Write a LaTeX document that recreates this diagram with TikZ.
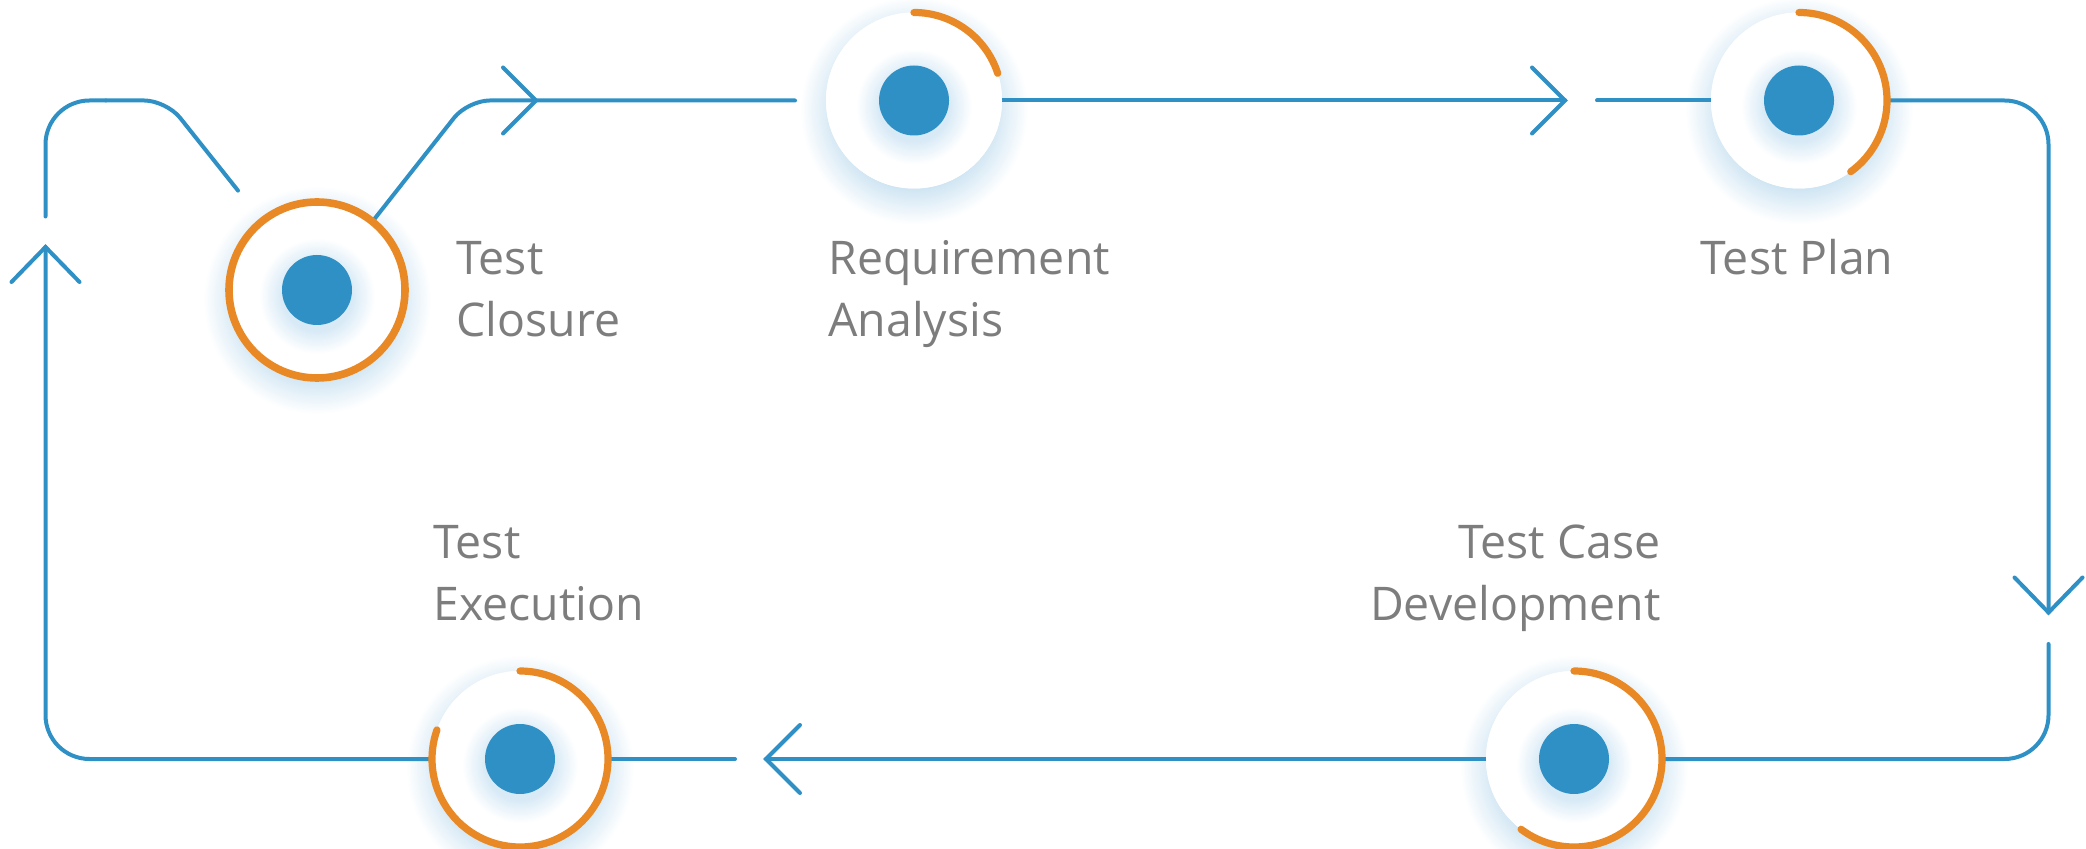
\documentclass[tikz,border=0pt]{standalone}
\usepackage{fontspec}
\setmainfont{Open Sans}
\definecolor{flowblue}{RGB}{46,144,196}
\definecolor{ringorange}{RGB}{233,137,37}
\definecolor{labelgray}{RGB}{125,125,125}
\definecolor{glowc}{RGB}{200,225,241}
\definecolor{glowd}{RGB}{216,234,246}
\pgfdeclareradialshading{glowshade}{\pgfpoint{0bp}{0bp}}{color(0bp)=(glowc); color(16bp)=(glowc); color(25bp)=(white); color(50bp)=(white)}
\pgfdeclareradialshading{dotshade}{\pgfpoint{0bp}{0bp}}{color(0bp)=(glowd); color(15bp)=(glowd); color(25bp)=(white); color(50bp)=(white)}
\tikzset{
  flow/.style={draw=flowblue, line width=2pt, line cap=round, line join=round},
  chev/.style={draw=flowblue, line width=2pt, line cap=round, line join=miter},
  stage/.style={circle, fill=white, minimum size=88pt, inner sep=0pt},
  ringarc/.style={draw=ringorange, line width=3.6pt, line cap=round},
  dotfill/.style={fill=flowblue},
  lbl/.style={text=labelgray, inner sep=0pt, font=\fontsize{23.2}{30.9}\selectfont},
}
\begin{document}
\begin{tikzpicture}[x=0.5pt,y=-0.5pt]
\useasboundingbox (0,0) rectangle (2086,849);
% centres
\coordinate (pC) at (317,290);
\coordinate (pR) at (914,100.5);
\coordinate (pP) at (1799,100.5);
\coordinate (pD) at (1574,759);
\coordinate (pE) at (520,759);
% glows
\foreach \p in {pC,pR,pP,pD,pE}{
  \shade[shading=glowshade] ([yshift=-5pt]\p) circle[radius=57pt];
}
% path coordinates
\coordinate (tl1) at (166.3,100.5);
\coordinate (lend) at (238,190.6);
\coordinate (mid5) at (105.9,100.5);
\coordinate (tr1) at (467.7,100.5);
\coordinate (a1) at (536,100.5);
\coordinate (g1) at (795,100.5);
\coordinate (a2) at (1565,100.5);
\coordinate (g2) at (1597,100.5);
\coordinate (cTR) at (2048.5,100.5);
\coordinate (a3) at (2048.5,612.5);
\coordinate (g3) at (2048.5,644);
\coordinate (cBR) at (2048.5,759);
\coordinate (a4) at (766,759);
\coordinate (g4) at (735,759);
\coordinate (cBL) at (45.5,759);
\coordinate (a5) at (45.5,247);
\coordinate (g5) at (45.5,216.5);
\coordinate (cTL) at (45.5,100.5);
% stage nodes
\node[stage] (C) at (pC) {};
\node[stage] (R) at (pR) {};
\node[stage] (P) at (pP) {};
\node[stage] (D) at (pD) {};
\node[stage] (E) at (pE) {};
% connectors
\draw[flow, rounded corners=11pt] (C.51.5) -- (tr1) -- (g1);
\draw[chev] (a1) ++(-33,-33) -- (a1) -- ++(-33,33);
\draw[flow] (R.east) -- (a2);
\draw[chev] (a2) ++(-33,-33) -- (a2) -- ++(-33,33);
\draw[flow] (g2) -- (P.west);
\draw[flow, rounded corners=22pt] (P.east) -- (cTR) -- (a3);
\draw[chev] (a3) ++(-34,-35) -- (a3) -- ++(34,-35);
\draw[flow, rounded corners=22pt] (g3) -- (cBR) -- (D.east);
\draw[flow] (D.west) -- (a4);
\draw[chev] (a4) ++(34,-34) -- (a4) -- ++(34,34);
\draw[flow] (g4) -- (E.east);
\draw[flow, rounded corners=22pt] (E.west) -- (cBL) -- (a5);
\draw[chev] (a5) ++(-34,35) -- (a5) -- ++(34,35);
\draw[flow, rounded corners=22pt] (g5) -- (cTL) -- (mid5);
\draw[flow, rounded corners=11pt] (mid5) -- (tl1) -- (lend);
% white discs again over the lines
\foreach \n in {C,R,P,D,E}{
  \fill[white] (\n) circle[radius=44pt];
  \shade[shading=dotshade] ([yshift=-3pt]\n.center) circle[radius=29pt];
}
% orange rings
\draw[ringarc, line width=3.8pt] (C) circle[radius=44pt];
\draw[ringarc] (R) ++(0,-88) arc[start angle=90, end angle=18, radius=44pt];
\draw[ringarc] (P) ++(0,-88) arc[start angle=90, end angle=-54, radius=44pt];
\draw[ringarc] (D) ++(0,-88) arc[start angle=90, end angle=-127, radius=44pt];
\draw[ringarc] (E) ++(0,-88) arc[start angle=90, end angle=-199.3, radius=44pt];
% dots
\foreach \n in {C,R,P,D,E}{
  \fill[dotfill] (\n) circle[radius=17.5pt];
}
% labels (base anchor of a multi-line node is on its last line)
\node[lbl, anchor=base west, align=left] (tC) at (456,336.7) {Test\\Closure};
\node[lbl, anchor=base west, align=left] (tR) at (828,336.7) {Requirement\\Analysis};
\node[lbl, anchor=base] (tP) at (1797,275) {Test Plan};
\node[lbl, anchor=base east, align=right] (tD) at (1661,620) {Test Case\\Development};
\node[lbl, anchor=base west, align=left] (tE) at (433,620) {Test\\Execution};
\end{tikzpicture}
\end{document}
